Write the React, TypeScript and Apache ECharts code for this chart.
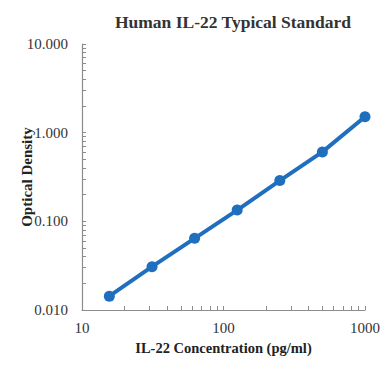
import React, { useEffect, useRef } from "react";
import * as echarts from "echarts";

const concentrations = [15.6, 31.25, 62.5, 125, 250, 500, 1000];
const opticalDensity = [0.0143, 0.0308, 0.0643, 0.134, 0.288, 0.607, 1.51];
const xDecades = [10, 100, 1000];
const yDecades = [0.01, 0.1, 1, 10];
const minorMultipliers = [1, 2, 3, 4, 5, 6, 7, 8, 9];

const SERIF = "'Liberation Serif', 'Times New Roman', serif";
const BLUE = "#1f6fbe";
const AXIS = "#8c8c8c";

function tickValues(decades: number[]) {
  const out: number[] = [];
  decades.forEach((d, i) => {
    if (i === decades.length - 1) {
      out.push(d);
      return;
    }
    minorMultipliers.forEach((m) => out.push(+(d * m).toPrecision(6)));
  });
  return out;
}

export default function App() {
  const ref = useRef<HTMLDivElement>(null);
  useEffect(() => {
    if (!ref.current) return;
    const chart = echarts.init(ref.current, null, { renderer: "svg" });
    chart.setOption({
      animation: false,
      backgroundColor: "#ffffff",
      title: {
        text: "Human IL-22 Typical Standard",
        left: 228,
        textAlign: "center",
        top: 8,
        textStyle: { fontFamily: SERIF, fontWeight: "bold", fontSize: 17.5, color: "#333333" },
      },
      grid: { left: 82, right: 25, top: 44, bottom: 76, containLabel: false, outerBoundsMode: "none" },
      xAxis: {
        type: "log",
        logBase: 10,
        min: 10,
        max: 1000,
        name: "IL-22 Concentration (pg/ml)",
        nameLocation: "middle",
        nameGap: 30,
        nameMoveOverlap: false,
        nameTextStyle: { fontFamily: SERIF, fontWeight: "bold", fontSize: 14.5, color: "#222222" },
        axisLine: { show: true, onZero: false, lineStyle: { color: AXIS, width: 1.2 } },
        axisTick: { show: true, inside: true, length: 4, customValues: tickValues(xDecades), lineStyle: { color: AXIS } },
        axisLabel: {
          customValues: xDecades,
          fontFamily: SERIF,
          fontSize: 15,
          color: "#333333",
          margin: 10,
          formatter: (v: number) => String(Math.round(v)),
        },
        splitLine: { show: false },
      },
      yAxis: {
        type: "log",
        logBase: 10,
        min: 0.01,
        max: 10,
        name: "Optical Density",
        nameLocation: "middle",
        nameGap: 48,
        nameMoveOverlap: false,
        nameTextStyle: { fontFamily: SERIF, fontWeight: "bold", fontSize: 15, color: "#222222" },
        axisLine: { show: true, onZero: false, lineStyle: { color: AXIS, width: 1.2 } },
        axisTick: { show: true, inside: true, length: 4, customValues: tickValues(yDecades), lineStyle: { color: AXIS } },
        axisLabel: {
          customValues: yDecades,
          fontFamily: SERIF,
          fontSize: 15,
          color: "#333333",
          margin: 14,
          formatter: (v: number) => v.toFixed(3),
        },
        splitLine: { show: false },
      },
      series: [
        {
          type: "line",
          data: concentrations.map((c, i) => [c, opticalDensity[i]]),
          symbol: "circle",
          symbolSize: 11,
          lineStyle: { color: BLUE, width: 4 },
          itemStyle: { color: BLUE },
        },
      ],
    });
    return () => chart.dispose();
  }, []);
  return <div ref={ref} style={{ width: 390, height: 386, position: "absolute", left: 0, top: 0 }} />;
}
